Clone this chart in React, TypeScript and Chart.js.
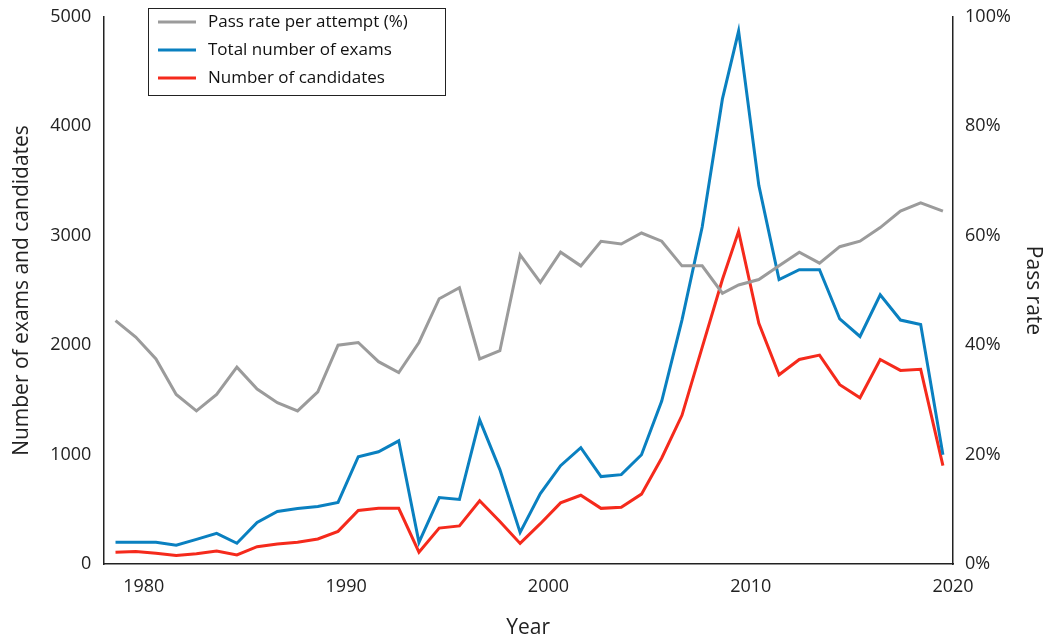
import React, { useEffect, useRef } from "react";
import { Chart, registerables } from "chart.js";
Chart.register(...registerables);

const years = [1978.6,1979.6,1980.6,1981.6,1982.6,1983.6,1984.6,1985.6,1986.6,1987.6,1988.6,1989.6,1990.6,1991.6,1992.6,1993.6,1994.6,1995.6,1996.6,1997.6,1998.6,1999.6,2000.6,2001.6,2002.6,2003.6,2004.6,2005.6,2006.6,2007.6,2008.6,2009.4,2010.4,2011.4,2012.4,2013.4,2014.4,2015.4,2016.4,2017.4,2018.4,2019.5];
const totalExams = [200,200,200,173,227,282,191,382,482,509,527,564,982,1027,1127,200,609,591,1318,864,291,645,900,1064,800,818,1000,1490,2230,3080,4250,4870,3460,2600,2690,2690,2240,2080,2460,2230,2190,1000];
const candidates = [110,115,100,80,95,120,85,160,185,200,230,300,490,510,510,110,330,350,580,390,190,370,560,630,510,520,640,970,1360,1980,2600,3040,2200,1730,1870,1910,1640,1520,1870,1770,1780,900];
const passRate = [44.5,41.5,37.5,31,28,31,36,32,29.5,28,31.5,40,40.5,37,35,40.5,48.5,50.5,37.5,39,56.5,51.5,57,54.5,59,58.5,60.5,59,54.5,54.5,49.5,51,52,54.5,57,55,58,59,61.5,64.5,66,64.5];
const xTicks = [1980, 1990, 2000, 2010, 2020];

const GREY = "#9b9b9b", BLUE = "#0a80c0", RED = "#f52a1c";
const FONT = "'Open Sans', 'DejaVu Sans', sans-serif";

const legendPlugin = {
  id: "boxLegend",
  afterDraw(chart: any) {
    const ctx = chart.ctx;
    const x0 = 148, y0 = 8, w = 297, h = 87;
    ctx.save();
    ctx.fillStyle = "#fff";
    ctx.fillRect(x0, y0, w, h);
    ctx.strokeStyle = "#222";
    ctx.lineWidth = 1;
    ctx.strokeRect(x0 + 0.5, y0 + 0.5, w, h);
    const items = [["Pass rate per attempt (%)", GREY], ["Total number of exams", BLUE], ["Number of candidates", RED]];
    ctx.font = `17px ${FONT}`;
    ctx.textBaseline = "middle";
    items.forEach(([t, c], i) => {
      const y = y0 + 14 + i * 28;
      ctx.strokeStyle = c; ctx.lineWidth = 3;
      ctx.beginPath(); ctx.moveTo(x0 + 10, y); ctx.lineTo(x0 + 48, y); ctx.stroke();
      ctx.fillStyle = "#111";
      ctx.fillText(t, x0 + 60, y);
    });
    ctx.restore();
  },
};

export default function App() {
  const ref = useRef<HTMLCanvasElement>(null);
  useEffect(() => {
    const mk = (arr: number[]) => arr.map((v, i) => ({ x: years[i], y: v }));
    const chart = new Chart(ref.current!, {
      type: "line",
      data: {
        datasets: [
          { label: "Pass rate", data: mk(passRate), borderColor: GREY, yAxisID: "y2", borderWidth: 3, pointRadius: 0, tension: 0 },
          { label: "Total", data: mk(totalExams), borderColor: BLUE, yAxisID: "y", borderWidth: 3, pointRadius: 0, tension: 0 },
          { label: "Candidates", data: mk(candidates), borderColor: RED, yAxisID: "y", borderWidth: 3, pointRadius: 0, tension: 0 },
        ],
      },
      options: {
        animation: false,
        responsive: true,
        maintainAspectRatio: false,
        layout: { padding: { top: 4, right: 8, left: 5, bottom: 0 } },
        plugins: { legend: { display: false }, tooltip: { enabled: false } },
        scales: {
          x: {
            type: "linear", min: 1978, max: 2020,
            afterBuildTicks: (a: any) => { a.ticks = xTicks.map((v) => ({ value: v })); },
            grid: { display: false, drawTicks: true, tickLength: 6, tickColor: "#222" } as any,
            border: { color: "#222", width: 1.5 },
            ticks: { color: "#222", font: { size: 18, family: FONT }, padding: 6, callback: (v: any) => String(v) },
            title: { display: true, text: "Year", color: "#222", font: { size: 21, family: FONT }, padding: { top: 12, bottom: 0 } },
          },
          y: {
            position: "left", min: 0, max: 5000,
            grid: { display: false, tickLength: 6, tickColor: "#222" } as any,
            border: { color: "#222", width: 1.5 },
            ticks: { stepSize: 1000, color: "#222", font: { size: 18, family: FONT }, padding: 6, callback: (v: any) => String(v) },
            title: { display: true, text: "Number of exams and candidates", color: "#222", font: { size: 21, family: FONT }, padding: { bottom: 10 } },
          },
          y2: {
            position: "right", min: 0, max: 100,
            grid: { display: false, tickLength: 6, tickColor: "#222" } as any,
            border: { color: "#222", width: 1.5 },
            ticks: { stepSize: 20, color: "#222", font: { size: 18, family: FONT }, padding: 6, callback: (v: any) => v + "%" },
            title: { display: true, text: "Pass rate", color: "#222", font: { size: 21, family: FONT }, padding: { top: 10 } },
          },
        },
      },
      plugins: [legendPlugin],
    } as any);
    return () => chart.destroy();
  }, []);
  return (
    <div style={{ position: "fixed", left: 0, top: 0, width: 1064, height: 641, background: "#fff" }}>
      <canvas ref={ref} />
    </div>
  );
}
